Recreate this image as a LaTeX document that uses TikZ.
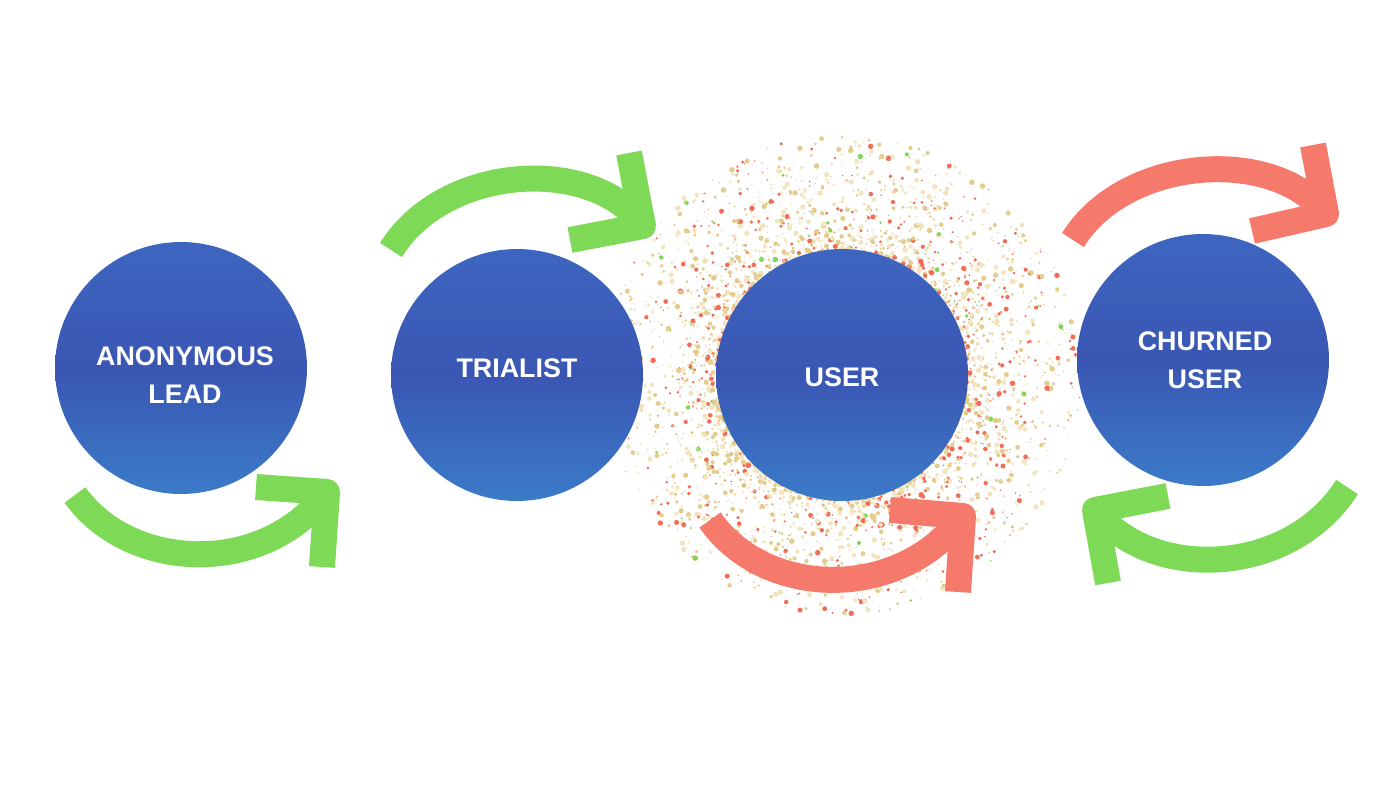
\documentclass[tikz,border=0pt]{standalone}
\usepackage{fontspec}
\setmainfont{Liberation Sans}
\usetikzlibrary{positioning}

\definecolor{leafgreen}{HTML}{7ED957}
\definecolor{salmon}{HTML}{F57A6C}
\definecolor{blueA}{HTML}{3D66C0}
\definecolor{blueB}{HTML}{3A56B3}
\definecolor{blueC}{HTML}{3B7BC8}
\definecolor{sand}{HTML}{E3CC8C}
\definecolor{sandpale}{HTML}{F1E4BE}
\definecolor{speck}{HTML}{F26C57}
\definecolor{speckgreen}{HTML}{7FD65A}

\tikzset{
  stage/.style={circle, minimum size=5.04cm, inner sep=0pt,
    top color=blueA, bottom color=blueC, middle color=blueB},
  caption/.style={text=white, align=center,
    font=\bfseries\fontsize{15.3}{21.6}\selectfont},
  band/.style={line width=0.52cm, line cap=butt},
  head/.style={line width=0.52cm, line cap=butt, line join=round},
  dust1/.style={fill=sandpale},
  dust2/.style={fill=sand},
  dust3/.style={fill=speck},
  dust4/.style={fill=speckgreen}
}

\begin{document}
\begin{tikzpicture}[x=0.02cm, y=-0.02cm]
  \fill[white] (0,0) rectangle (1400,788);
  \useasboundingbox (0,0) rectangle (1400,788);

  % speckles round the user
  \begin{scope}[shift={(842,375)}]
    \pgfmathsetseed{42}
    \foreach \i in {1,...,3400}{
      \pgfmathsetmacro{\ang}{360*rnd}
      \pgfmathsetmacro{\rad}{124+115*rnd^1.8}
      \pgfmathsetmacro{\sz}{0.7+2.1*rnd^1.8}
      \pgfmathsetmacro{\k}{rnd}
      \pgfmathtruncatemacro{\kind}{\k<0.02 ? 4 : (\k<0.22 ? 3 : (\k<0.6 ? 2 : 1))}
      \fill[dust\kind] (\ang:\rad) circle (\sz);
    }
  \end{scope}

  % stages
  \node[stage] (lead)  at (181,368) {};
  \node[stage] (trial) at (517,375) {};
  \node[stage] (user)  at (842,375) {};
  \node[stage] (churn) at (1203,360) {};

  \node[caption, xshift=0.08cm, yshift=-0.14cm] (leadtxt) at (lead) {ANONYMOUS\\LEAD};
  \node[caption, yshift=0.14cm]  (trialtxt) at (trial) {TRIALIST};
  \node[caption, yshift=-0.04cm] (usertxt)  at (user)  {USER};
  \node[caption, xshift=0.04cm]  (churntxt) at (churn) {CHURNED\\USER};

  % loop arrows
  \coordinate (a0) at (75,495);   \coordinate (a1) at (327,492);
  \coordinate (a2) at (256,487);  \coordinate (a3) at (322,567);
  \draw[band, leafgreen] (a0) .. controls (130,572) and (265,577) .. (a1);
  \draw[head, leafgreen] (a2) -- (a1) -- (a3);

  \coordinate (b0) at (391,250);  \coordinate (b1) at (643,226);
  \coordinate (b2) at (629,153);  \coordinate (b3) at (570,240);
  \draw[band, leafgreen] (b0) .. controls (445,163) and (595,156) .. (b1);
  \draw[head, leafgreen] (b2) -- (b1) -- (b3);

  \coordinate (c0) at (710,520);  \coordinate (c1) at (963,516);
  \coordinate (c2) at (890,510);  \coordinate (c3) at (958,592);
  \draw[band, salmon] (c0) .. controls (765,599) and (900,602) .. (c1);
  \draw[head, salmon] (c2) -- (c1) -- (c3);

  \coordinate (d0) at (1073,240); \coordinate (d1) at (1326,214);
  \coordinate (d2) at (1313,145); \coordinate (d3) at (1252,231);
  \draw[band, salmon] (d0) .. controls (1125,156) and (1275,146) .. (d1);
  \draw[head, salmon] (d2) -- (d1) -- (d3);

  \coordinate (e0) at (1347,487); \coordinate (e1) at (1095,510);
  \coordinate (e2) at (1168,496); \coordinate (e3) at (1108,583);
  \draw[band, leafgreen] (e0) .. controls (1290,577) and (1150,582) .. (e1);
  \draw[head, leafgreen] (e2) -- (e1) -- (e3);
\end{tikzpicture}
\end{document}
